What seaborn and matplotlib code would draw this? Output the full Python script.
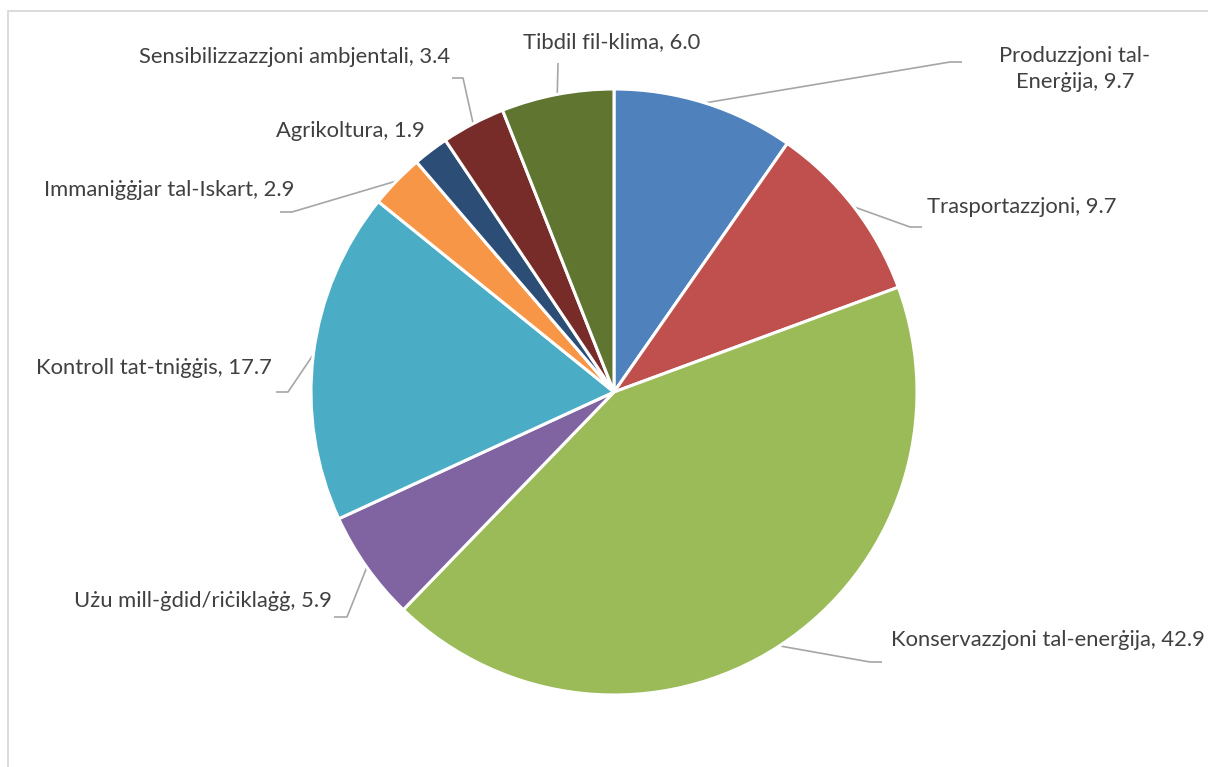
import matplotlib
matplotlib.use('Agg')
import numpy as np
import matplotlib.pyplot as plt
import seaborn as sns
from matplotlib.patches import Rectangle

categories = ['Produzzjoni tal-Enerġija', 'Trasportazzjoni', 'Konservazzjoni tal-enerġija',
              'Użu mill-ġdid/riċiklaġġ', 'Kontroll tat-tniġġis', 'Immaniġġjar tal-Iskart',
              'Agrikoltura', 'Sensibilizzazzjoni ambjentali', 'Tibdil fil-klima']
values = [9.7, 9.7, 42.9, 5.9, 17.7, 2.9, 1.9, 3.4, 6.0]
colors = ['#4F81BD', '#C0504D', '#9BBB59', '#8064A2', '#4BACC6',
          '#F79646', '#2C4D75', '#772C2A', '#5F7530']

# label layout in pixels: text x, text y, ha, elbow, end of leader (None = no leader)
W, H = 1208, 767
CX, CY, R = 614, 392, 303
label_layout = [
    (1075, 69, 'center', (950, 62), (962, 62)),
    (927, 207, 'left', (910, 227), (922, 227)),
    (891, 640, 'left', (870, 662), (882, 662)),
    (332, 601, 'right', (347, 617), (334, 617)),
    (272, 368, 'right', (288, 392), (276, 392)),
    (294, 190, 'right', (292, 212), (280, 212)),
    (425, 131, 'right', None, None),
    (450, 57, 'right', (463, 78), (452, 78)),
    (612, 42, 'center', (558, 63), (558, 63)),
]


def px(x, y):
    return (x - CX) / R, (CY - y) / R


sns.set_theme(style='white')
plt.rcParams['font.family'] = ['Lato', 'DejaVu Sans']

fig = plt.figure(figsize=(W / 100, H / 100), dpi=100)
ax = fig.add_axes([0, 0, 1, 1])

wedges, _ = ax.pie(values, colors=sns.color_palette(colors), startangle=90,
                   counterclock=False, radius=1,
                   wedgeprops=dict(edgecolor='white', linewidth=2.2))

# pie() resets the limits, so set them afterwards
ax.set_aspect('auto')
ax.set_xlim(-CX / R, (W - CX) / R)
ax.set_ylim(-(H - CY) / R, CY / R)
ax.axis('off')

for w, name, val, lay in zip(wedges, categories, values, label_layout):
    tx, ty, ha, elbow, end = lay
    text = f'{name}, {val:.1f}'
    if name == 'Produzzjoni tal-Enerġija':
        text = f'Produzzjoni tal-\nEnerġija, {val:.1f}'
    ax.text(*px(tx, ty), text, ha=ha, va='center', fontsize=15.8,
            color='#404040', multialignment='center', linespacing=1.35)
    if elbow is not None:
        mid = np.deg2rad((w.theta1 + w.theta2) / 2)
        sx, sy = np.cos(mid), np.sin(mid)
        ex, ey = px(*elbow)
        fx, fy = px(*end)
        ax.plot([sx, ex, fx], [sy, ey, fy], color='#A6A6A6', lw=1.2,
                solid_capstyle='butt', zorder=0)

fig.patches.append(Rectangle((8 / W, -0.1), 1.2, 1.1 - 11 / H,
                             transform=fig.transFigure, fill=False,
                             edgecolor='#D9D9D9', lw=1.3))

fig.savefig('out.png', dpi=100, facecolor='white')
